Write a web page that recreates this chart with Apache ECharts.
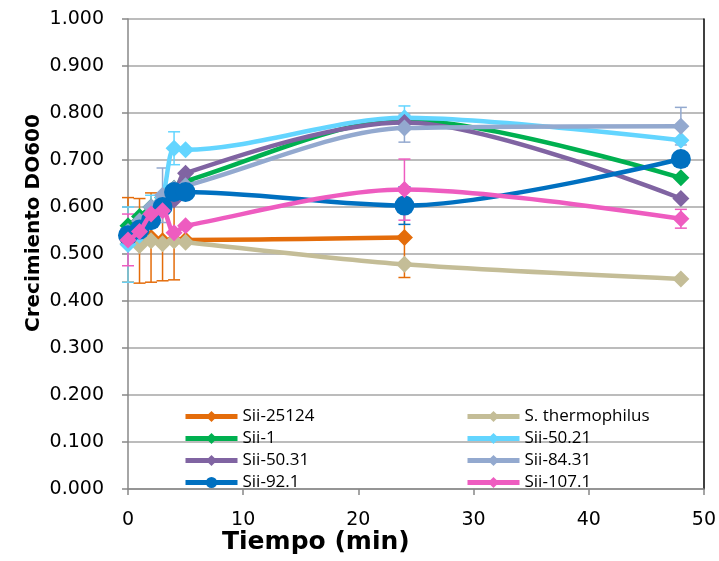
<!DOCTYPE html>
<html>
<head>
<meta charset="utf-8">
<script src="https://cdn.jsdelivr.net/npm/echarts@6/dist/echarts.min.js"></script>
<style>
  html, body { margin: 0; padding: 0; background: #fff; }
  #chart { width: 719px; height: 561px; }
</style>
</head>
<body>
<div id="chart"></div>
<script>
// time points (min)
const times = [0, 1, 2, 3, 4, 5, 24, 48];

const seriesNames = ['Sii-25124', 'S. thermophilus', 'Sii-1', 'Sii-50.21', 'Sii-50.31', 'Sii-84.31', 'Sii-92.1', 'Sii-107.1'];
const seriesColors = ['#E46C0A', '#C4BD97', '#00B050', '#63D5FF', '#8064A2', '#93A9CF', '#0070C0', '#EE5CC0'];

// growth values (DO600), null = no point
const sii25124 = [0.530, 0.528, 0.535, 0.528, 0.530, 0.530, 0.535, null];
const sThermo = [0.522, 0.518, 0.528, 0.522, 0.528, 0.525, 0.478, 0.447];
const sii1 = [0.560, 0.580, 0.600, 0.620, 0.640, 0.655, 0.785, 0.662];
const sii5021 = [0.520, 0.540, 0.580, 0.620, 0.725, 0.722, 0.790, 0.742];
const sii5031 = [0.535, 0.550, 0.570, 0.600, 0.615, 0.672, 0.780, 0.618];
const sii8431 = [0.548, 0.570, 0.600, 0.625, 0.640, 0.645, 0.768, 0.772];
const sii921 = [0.540, 0.552, 0.572, 0.600, 0.632, 0.632, 0.603, 0.702];
const sii1071 = [0.530, 0.548, 0.585, 0.592, 0.545, 0.560, 0.637, 0.575];

// error bars (+/-), null = none drawn
const err25124 = [0.090, 0.090, 0.095, 0.085, 0.085, null, 0.085, null];
const errThermo = [null, null, null, null, null, null, null, null];
const err1 = [null, null, null, null, null, null, null, null];
const err5021 = [0.080, null, 0.045, null, 0.035, null, 0.025, null];
const err5031 = [null, null, null, null, null, null, null, null];
const err8431 = [null, null, null, 0.058, null, null, 0.030, 0.040];
const err921 = [null, null, null, null, null, null, 0.040, null];
const err1071 = [0.055, null, null, null, null, null, 0.065, 0.020];

const values = [sii25124, sThermo, sii1, sii5021, sii5031, sii8431, sii921, sii1071];
const errors = [err25124, errThermo, err1, err5021, err5031, err8431, err921, err1071];

const chart = echarts.init(document.getElementById('chart'));

const series = [];
// error bars first so the lines sit on top
values.forEach((vals, i) => {
  const errData = [];
  vals.forEach((v, k) => {
    const e = errors[i][k];
    if (v != null && e != null) errData.push([times[k], v - e, v + e]);
  });
  series.push({
    type: 'custom',
    name: seriesNames[i] + '_err',
    z: 1,
    silent: true,
    data: errData,
    encode: { x: 0, y: [1, 2] },
    renderItem: (params, api) => {
      const lo = api.coord([api.value(0), api.value(1)]);
      const hi = api.coord([api.value(0), api.value(2)]);
      const cap = 6;
      const style = { stroke: seriesColors[i], lineWidth: 1.5 };
      return {
        type: 'group',
        children: [
          { type: 'line', shape: { x1: lo[0], y1: lo[1], x2: hi[0], y2: hi[1] }, style },
          { type: 'line', shape: { x1: lo[0] - cap, y1: lo[1], x2: lo[0] + cap, y2: lo[1] }, style },
          { type: 'line', shape: { x1: hi[0] - cap, y1: hi[1], x2: hi[0] + cap, y2: hi[1] }, style }
        ]
      };
    }
  });
});

values.forEach((vals, i) => {
  const isCircle = seriesNames[i] === 'Sii-92.1';
  series.push({
    type: 'line',
    name: seriesNames[i],
    z: 2 + i,
    smooth: 0.3,
    data: times.map((t, k) => vals[k] == null ? null : [t, vals[k]]).filter(d => d),
    symbol: isCircle ? 'circle' : 'diamond',
    symbolSize: isCircle ? 20 : 17,
    itemStyle: { color: seriesColors[i] },
    lineStyle: { color: seriesColors[i], width: 4.5 }
  });
});

function makeLegend(left, names) {
  return {
    orient: 'vertical',
    left: left,
    top: 403,
    itemWidth: 52,
    itemHeight: 14,
    itemGap: 5,
    selectedMode: false,
    data: names,
    lineStyle: { width: 5 },
    textStyle: { fontFamily: 'Open Sans', fontSize: 17, lineHeight: 16, color: '#000' }
  };
}

const option = {
  animation: false,
  grid: { left: 128, right: 14, top: 19, bottom: 72 },
  legend: [
    makeLegend(178, ['Sii-25124', 'Sii-1', 'Sii-50.31', 'Sii-92.1']),
    makeLegend(460, ['S. thermophilus', 'Sii-50.21', 'Sii-84.31', 'Sii-107.1'])
  ],
  xAxis: {
    type: 'value',
    min: 0,
    max: 50,
    interval: 10,
    axisLine: { show: true, lineStyle: { color: '#888', width: 1.5 } },
    axisTick: { show: true, length: 6, lineStyle: { color: '#888', width: 1.5 } },
    splitLine: { show: false },
    axisLabel: { color: '#000', fontFamily: 'DejaVu Sans', fontSize: 19, margin: 22 }
  },
  yAxis: [
    {
      type: 'value',
      min: 0,
      max: 1,
      interval: 0.1,
      axisLine: { show: true, lineStyle: { color: '#888', width: 1.5 } },
      axisTick: { show: true, length: 6, lineStyle: { color: '#888', width: 1.5 } },
      splitLine: { show: true, lineStyle: { color: '#A6A6A6', width: 1.5 } },
      axisLabel: {
        color: '#000', fontFamily: 'DejaVu Sans', fontSize: 19, margin: 24,
        formatter: v => v.toFixed(3)
      }
    },
    {
      type: 'value',
      position: 'right',
      min: 0,
      max: 1,
      interval: 0.1,
      axisLine: { show: true, lineStyle: { color: '#000', width: 1.5 } },
      axisTick: { show: false },
      axisLabel: { show: false },
      splitLine: { show: false }
    }
  ],
  graphic: [
    {
      type: 'text',
      left: 222,
      top: 530,
      style: { text: 'Tiempo (min)', font: 'bold 25px "DejaVu Sans"', fill: '#000' }
    },
    {
      type: 'text',
      x: 24,
      y: 332,
      rotation: Math.PI / 2,
      style: { text: 'Crecimiento DO600', font: 'bold 20px "DejaVu Sans"', fill: '#000', textAlign: 'left', textVerticalAlign: 'top' }
    }
  ],
  series: series
};

chart.setOption(option);
</script>
</body>
</html>
